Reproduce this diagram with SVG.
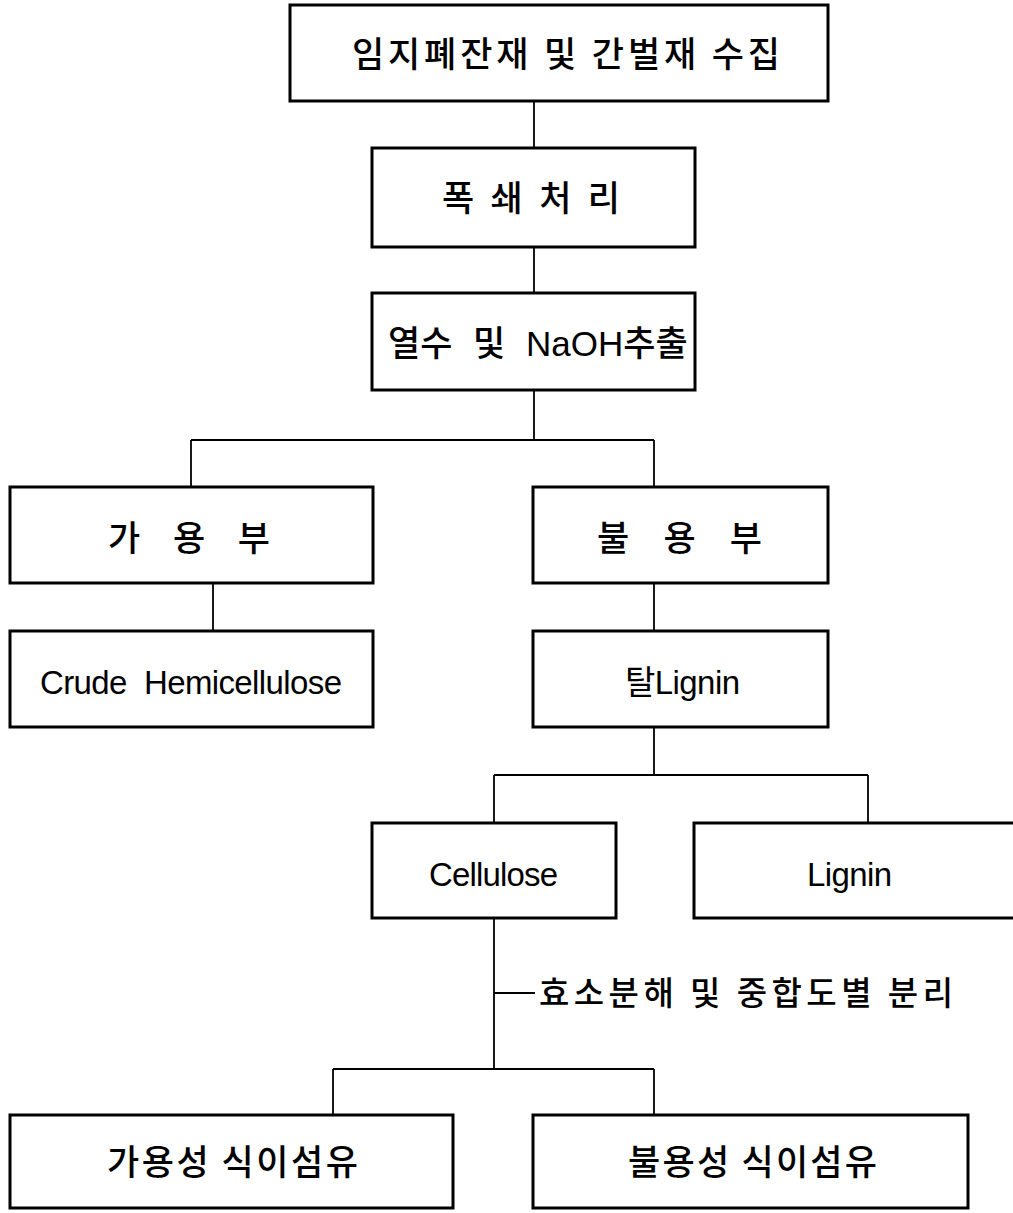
<svg xmlns="http://www.w3.org/2000/svg" width="1013" height="1213" viewBox="0 0 1013 1213">
<style>
.box{fill:#fff;stroke:#000;stroke-width:3}
.ln{stroke:#000;stroke-width:1.8;fill:none}
.ko{font-family:"Noto Sans CJK KR","Noto Sans",sans-serif;font-size:35px;font-weight:500;fill:#000}
.la{font-family:"Liberation Sans","Noto Sans CJK KR",sans-serif;font-size:33px;fill:#000}
</style>
<rect width="1013" height="1213" fill="#fff"/>
<g id="connectors">
<path class="ln" d="M534 101V148M534 247V293M534 390V440M191 440H654M191 440V487M654 440V487"/>
<path class="ln" d="M213 583V631M654 583V631M654 727V775M494 775H868M494 775V823M868 775V823"/>
<path class="ln" d="M494 918V1069M494 993H535M333 1069H654M333 1069V1115M654 1069V1115"/>
</g>
<g id="n1"><rect class="box" x="290" y="5" width="538" height="96"/><text class="ko" x="352" y="67" textLength="428" lengthAdjust="spacing">임지폐잔재 및 간벌재 수집</text></g>
<g id="n2"><rect class="box" x="372" y="148" width="323" height="99"/><text class="ko" x="442" y="211" textLength="178" lengthAdjust="spacing">폭 쇄 처 리</text></g>
<g id="n3"><rect class="box" x="372" y="293" width="323" height="97"/><text class="ko" x="388" y="356" style="font-family:'Liberation Sans','Noto Sans CJK KR',sans-serif;word-spacing:11px">열수 및 NaOH추출</text></g>
<g id="n4"><rect class="box" x="10" y="487" width="363" height="96"/><text class="ko" x="108" y="551" textLength="162" lengthAdjust="spacing">가 용 부</text></g>
<g id="n5"><rect class="box" x="533" y="487" width="295" height="96"/><text class="ko" x="597" y="551" textLength="165" lengthAdjust="spacing">불 용 부</text></g>
<g id="n6"><rect class="box" x="10" y="631" width="363" height="96"/><text class="la" x="40" y="694" textLength="302" lengthAdjust="spacing">Crude&#160; Hemicellulose</text></g>
<g id="n7"><rect class="box" x="533" y="631" width="295" height="96"/><text class="la" x="625" y="694" textLength="115" lengthAdjust="spacing">탈Lignin</text></g>
<g id="n8"><rect class="box" x="372" y="823" width="244" height="95"/><text class="la" x="429" y="886" textLength="129" lengthAdjust="spacing">Cellulose</text></g>
<g id="n9"><rect class="box" x="694" y="823" width="330" height="95"/><text class="la" x="807" y="886" textLength="85" lengthAdjust="spacing">Lignin</text></g>
<g id="label"><text class="ko" x="539" y="1005" textLength="414" lengthAdjust="spacing" style="font-size:33px">효소분해 및 중합도별 분리</text></g>
<g id="n10"><rect class="box" x="10" y="1115" width="443" height="93"/><text class="ko" x="107" y="1175" textLength="251" lengthAdjust="spacing">가용성 식이섬유</text></g>
<g id="n11"><rect class="box" x="533" y="1115" width="435" height="93"/><text class="ko" x="628" y="1175" textLength="249" lengthAdjust="spacing">불용성 식이섬유</text></g>
</svg>
